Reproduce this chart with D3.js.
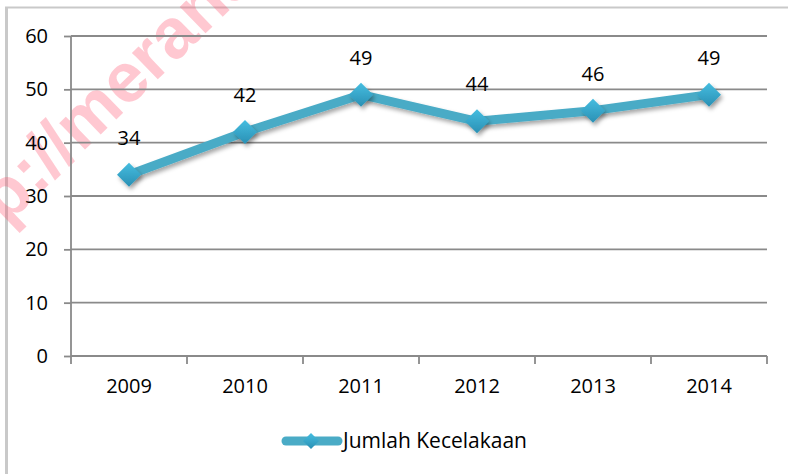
<!DOCTYPE html>
<html><head><meta charset="utf-8">
<script src="https://cdn.jsdelivr.net/npm/d3@7"></script>
<style>
html,body{margin:0;padding:0;background:#fff;}
svg{display:block;font-family:"Open Sans",sans-serif;}
</style></head>
<body>
<script>
const categories = ["2009","2010","2011","2012","2013","2014"];
const values = [34,42,49,44,46,49];
const seriesName = "Jumlah Kecelakaan";
const yTicks = [0,10,20,30,40,50,60];

const W = 788, H = 474;
const svg = d3.select("body").append("svg").attr("width", W).attr("height", H);

const defs = svg.append("defs");
const grad = defs.append("linearGradient").attr("id","mk").attr("x1",0).attr("y1",0).attr("x2",0).attr("y2",1);
grad.append("stop").attr("offset","0%").attr("stop-color","#45bde0");
grad.append("stop").attr("offset","100%").attr("stop-color","#2a90b4");
const f = defs.append("filter").attr("id","sh").attr("x","-50%").attr("y","-50%").attr("width","200%").attr("height","200%");
f.append("feDropShadow").attr("dx",2).attr("dy",3).attr("stdDeviation",2).attr("flood-color","#000").attr("flood-opacity",0.35);

// frame
svg.append("line").attr("x1",6.5).attr("x2",6.5).attr("y1",7).attr("y2",H).attr("stroke","#c9c9c9").attr("stroke-width",3);
svg.append("line").attr("x1",5).attr("x2",W).attr("y1",7.5).attr("y2",7.5).attr("stroke","#c9c9c9").attr("stroke-width",2);

// watermark
svg.append("text").attr("transform","translate(6,226) rotate(-44)")
  .attr("font-family","Liberation Sans, sans-serif").attr("font-weight","bold").attr("font-size",70)
  .attr("fill","#ff4d6a").attr("opacity",0.3).text("p://merans");

const pL = 71, pR = 767, pT = 36, pB = 356;
const x = d3.scaleBand().domain(categories).range([pL,pR]);
const y = d3.scaleLinear().domain([0,60]).range([pB,pT]);

// gridlines
svg.append("g").selectAll("line").data(yTicks.filter(d=>d>0)).join("line")
  .attr("x1",pL).attr("x2",pR).attr("y1",d=>y(d)).attr("y2",d=>y(d))
  .attr("stroke","#8a8a8a").attr("stroke-width",1.8);

// y axis
const ya = svg.append("g").attr("transform",`translate(${pL},0)`)
  .call(d3.axisLeft(y).tickValues(yTicks).tickSize(7).tickPadding(16));
ya.select(".domain").attr("stroke","#8a8a8a").attr("stroke-width",1.8).attr("d",`M-0,${pT}V${pB}`);
ya.selectAll(".tick line").attr("stroke","#8a8a8a").attr("stroke-width",1.8);
ya.selectAll(".tick text").attr("font-size",20).attr("fill","#000").attr("font-family","Open Sans, sans-serif");

// x axis
const xa = svg.append("g").attr("transform",`translate(0,${pB})`)
  .call(d3.axisBottom(x).tickSize(0).tickPadding(23));
xa.select(".domain").attr("stroke","#8a8a8a").attr("stroke-width",1.8).attr("d",`M${pL},0H${pR}`);
xa.selectAll(".tick text").attr("font-size",20).attr("fill","#000").attr("font-family","Open Sans, sans-serif");
const bounds = categories.map(c=>x(c)).concat([pR]);
svg.append("g").selectAll("line").data(bounds).join("line")
  .attr("x1",d=>d).attr("x2",d=>d).attr("y1",pB).attr("y2",pB+8)
  .attr("stroke","#8a8a8a").attr("stroke-width",1.8);

const cx = c => x(c) + x.bandwidth()/2;
const pts = categories.map((c,i)=>[cx(c), y(values[i])]);

// line
svg.append("path").attr("d", d3.line()(pts)).attr("fill","none")
  .attr("stroke","#4aabc6").attr("stroke-width",9).attr("stroke-linejoin","round").attr("stroke-linecap","round")
  .attr("filter","url(#sh)");

// markers
const dia = s => `M0,${-s}L${s},0L0,${s}L${-s},0Z`;
svg.append("g").selectAll("path").data(pts).join("path")
  .attr("transform",d=>`translate(${d[0]},${d[1]})`).attr("d",dia(12))
  .attr("fill","url(#mk)").attr("filter","url(#sh)");

// data labels
svg.append("g").selectAll("text").data(categories).join("text")
  .attr("x",c=>cx(c)).attr("y",(c,i)=>y(values[i])-30)
  .attr("text-anchor","middle").attr("font-size",20).attr("fill","#000")
  .text((c,i)=>values[i]);

// legend
const lg = svg.append("g");
lg.append("line").attr("x1",286).attr("x2",338).attr("y1",441).attr("y2",441)
  .attr("stroke","#4aabc6").attr("stroke-width",9).attr("stroke-linecap","round");
lg.append("path").attr("transform","translate(311,441)").attr("d",dia(8)).attr("fill","url(#mk)");
lg.append("text").attr("x",343).attr("y",448).attr("font-size",21).attr("fill","#000").text(seriesName);
</script>
</body></html>
